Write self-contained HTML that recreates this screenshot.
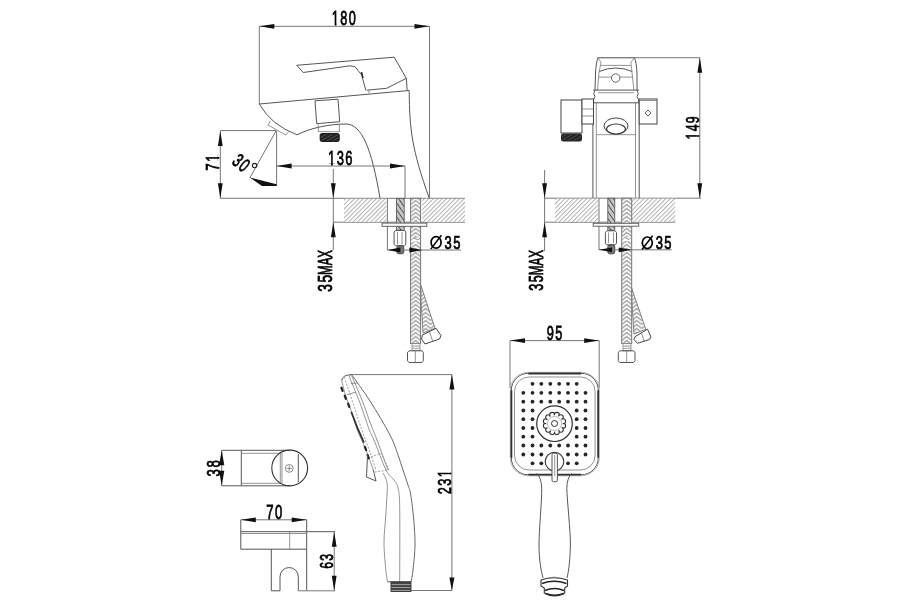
<!DOCTYPE html>
<html><head><meta charset="utf-8"><style>
html,body{margin:0;padding:0;background:#fff;width:900px;height:600px;overflow:hidden}
svg{display:block;will-change:transform}
text{font-family:"Liberation Sans",sans-serif;font-size:200px;fill:#000;stroke:#000;stroke-width:8px}
.ln{fill:none;stroke:#555;stroke-width:1}
.lt{fill:none;stroke:#777;stroke-width:0.8}
.th{fill:none;stroke:#222;stroke-width:1.4}
.dm{fill:none;stroke:#777;stroke-width:1}
.ln2{fill:none;stroke:#666;stroke-width:1}
.thick{fill:none;stroke:#333;stroke-width:1.8}
.ar{fill:#111;stroke:none}
.dash{fill:none;stroke:#222;stroke-width:2;stroke-dasharray:3 4}
.dash2{fill:none;stroke:#888;stroke-width:0.8;stroke-dasharray:2 1.5}
</style></head><body>
<svg width="900" height="600" viewBox="0 0 900 600">
<defs>
<clipPath id="c1" clipPathUnits="userSpaceOnUse"><path clip-rule="evenodd" d="M-2000,-2000 H4000 V2000 H-2000 Z M0.0,-23 H45.5 V12 H0.0 Z M71.5,-23 H115.0 V12 H71.5 Z"/></clipPath><clipPath id="c2" clipPathUnits="userSpaceOnUse"><path clip-rule="evenodd" d="M-2000,-2000 H4000 V2000 H-2000 Z M133.2,-23 H178.7 V12 H133.2 Z M204.7,-23 H248.2 V12 H204.7 Z"/></clipPath><clipPath id="c3" clipPathUnits="userSpaceOnUse"><path clip-rule="evenodd" d="M-2000,-2000 H4000 V2000 H-2000 Z M0.0,-23 H45.5 V12 H0.0 Z M71.5,-23 H115.0 V12 H71.5 Z"/></clipPath><clipPath id="c4" clipPathUnits="userSpaceOnUse"><path clip-rule="evenodd" d="M-2000,-2000 H4000 V2000 H-2000 Z M0.0,-23 H45.5 V12 H0.0 Z M71.5,-23 H115.0 V12 H71.5 Z"/></clipPath><clipPath id="c5" clipPathUnits="userSpaceOnUse"><path clip-rule="evenodd" d="M-2000,-2000 H4000 V2000 H-2000 Z M266.5,-23 H312.0 V12 H266.5 Z M338.0,-23 H381.5 V12 H338.0 Z"/></clipPath>
<pattern id="hatch" patternUnits="userSpaceOnUse" width="3.1" height="6" patternTransform="rotate(45)">
<rect width="3.1" height="6" fill="#fff"/><line x1="0.5" y1="0" x2="0.5" y2="6" stroke="#b0b0b0" stroke-width="1"/></pattern>
<pattern id="pipe" patternUnits="userSpaceOnUse" width="4" height="4" patternTransform="rotate(-35)">
<rect width="4" height="4" fill="#c8c8c8"/><line x1="0.5" y1="0" x2="0.5" y2="4" stroke="#555" stroke-width="1.1"/></pattern>
<pattern id="braid" patternUnits="userSpaceOnUse" width="10" height="4" x="410.6" y="0">
<rect width="10" height="4" fill="#f6f6f6"/><path d="M0,4.5 L5,0.5 L10,4.5 M0,0.5 L5,-3.5 L10,0.5 M0,8.5 L5,4.5 L10,8.5" fill="none" stroke="#999" stroke-width="1.1"/></pattern>
<pattern id="braid2" patternUnits="userSpaceOnUse" width="10" height="4" x="621.7" y="0">
<rect width="10" height="4" fill="#f6f6f6"/><path d="M0,4.5 L5,0.5 L10,4.5 M0,0.5 L5,-3.5 L10,0.5 M0,8.5 L5,4.5 L10,8.5" fill="none" stroke="#999" stroke-width="1.1"/></pattern>
<pattern id="thr" patternUnits="userSpaceOnUse" width="3" height="3" patternTransform="rotate(60)">
<rect width="3" height="3" fill="#222"/><line x1="0" y1="0" x2="0" y2="3" stroke="#888" stroke-width="0.8"/></pattern>
<pattern id="thr3" patternUnits="userSpaceOnUse" width="2.5" height="2.5">
<rect width="2.5" height="2.5" fill="#fff"/><line x1="0" y1="1" x2="2.5" y2="1" stroke="#888" stroke-width="0.9"/></pattern>
<pattern id="thr2" patternUnits="userSpaceOnUse" width="3" height="3">
<rect width="3" height="3" fill="#999"/><line x1="0" y1="1" x2="3" y2="1" stroke="#222" stroke-width="1.4"/></pattern>
</defs>
<line class="dm" x1="259.3" y1="26.3" x2="429.5" y2="26.3"/>
<polygon class="ar" points="259.30,26.30 274.30,23.90 274.30,28.70"/>
<polygon class="ar" points="429.50,26.30 414.50,28.70 414.50,23.90"/>
<line class="dm" x1="259.3" y1="26.3" x2="259.3" y2="104"/>
<line class="dm" x1="429.5" y1="26.3" x2="429.5" y2="198.3"/>
<text transform="translate(331.85 25.21) scale(0.0635 0.0980)" clip-path="url(#c1)" letter-spacing="22">180</text>
<path class="ln" d="M296.7,65.3 L394.2,57.2 L406.3,78.3 L407.2,90.6"/>
<path class="ln" d="M296.7,65.3 L303.3,72.5 L350,65.8 L355,66.7 L361.7,75 L365.8,90.3"/>
<path class="ln" d="M406.3,78.3 L386.7,88.3 L366.7,90.2"/>
<path class="th" d="M361.5,72 L363,78"/>
<path class="ln" d="M259.3,104 L409.2,90.5"/>
<path class="ln" d="M409.2,90.5 C409.5,130 412,150 429.3,198.3"/>
<line class="lt" x1="369" y1="90" x2="369" y2="93.5"/>
<path class="ln" d="M259.3,104 Q271,125 297,134.8"/>
<path class="ln" d="M297,134.8 C310,128 330,124 346,124 C362,124 372,150 380,198.3"/>
<path class="lt" d="M270.5,120.8 L268,125 L285.8,135.1 L288.6,131.6"/>
<path class="ln" d="M315,100.8 L338,99.2 L339.7,121.7 L316.7,123.7 Z"/>
<path class="lt" d="M318.3,124.6 L318.3,131.7 L339.4,131.7 L339.4,124"/>
<rect x="320.2" y="133.6" width="19" height="7.8" rx="1.5" fill="url(#thr)" stroke="#111" stroke-width="1"/>
<line class="dm" x1="220.3" y1="131" x2="220.3" y2="198.3"/>
<polygon class="ar" points="220.30,131.00 222.70,146.00 217.90,146.00"/>
<polygon class="ar" points="220.30,198.30 217.90,183.30 222.70,183.30"/>
<line class="dm" x1="220.3" y1="130.6" x2="276" y2="130.6"/>
<text transform="translate(219.33 170.70) rotate(-90) scale(0.0665 0.0918)" clip-path="url(#c2)" letter-spacing="22">71</text>
<line class="dm" x1="276.6" y1="130.6" x2="276.6" y2="185.8"/>
<line class="dm" x1="276" y1="131" x2="249.8" y2="178"/>
<polygon class="ar" points="249.8,177.6 276.6,184.2 276.6,185.9 262,185.9"/>
<text transform="translate(241.30 162.80) rotate(40) scale(0.0633 0.0967) translate(-122.50 69.00)" letter-spacing="22">30</text>
<circle cx="254.6" cy="165.6" r="2.2" fill="none" stroke="#222" stroke-width="1.1"/>
<line class="dm" x1="276.6" y1="166" x2="405" y2="166"/>
<polygon class="ar" points="276.60,166.00 291.60,163.60 291.60,168.40"/>
<polygon class="ar" points="405.00,166.00 390.00,168.40 390.00,163.60"/>
<line class="dm" x1="405" y1="166" x2="405" y2="198.3"/>
<text transform="translate(328.03 165.41) scale(0.0648 0.0980)" clip-path="url(#c3)" letter-spacing="22">136</text>
<line class="dm" x1="333.3" y1="169" x2="333.3" y2="250"/>
<polygon class="ar" points="333.30,198.30 330.90,183.30 335.70,183.30"/>
<polygon class="ar" points="333.30,222.20 335.70,237.20 330.90,237.20"/>
<text transform="translate(332.40 274.89) rotate(-90) scale(0.0575 0.0993)" letter-spacing="0">MAX</text>
<text transform="translate(332.22 291.78) rotate(-90) scale(0.0691 0.0967)" letter-spacing="22">35</text>
<line class="dm" x1="220.3" y1="198.3" x2="465" y2="198.3"/>
<line class="dm" x1="333.3" y1="222.2" x2="465" y2="222.2"/>
<rect x="344" y="198.8" width="42.5" height="23" fill="url(#hatch)"/>
<rect x="422.4" y="198.8" width="42.6" height="23" fill="url(#hatch)"/>
<line class="dm" x1="387.4" y1="198.3" x2="387.4" y2="250"/>
<rect x="396.4" y="198.3" width="7.8" height="32" fill="url(#pipe)" stroke="#555" stroke-width="0.8"/>
<rect x="410.6" y="198.3" width="10" height="145.2" fill="url(#braid)" stroke="#777" stroke-width="1"/>
<rect x="411.3" y="237.8" width="8.6" height="3.8" fill="#fff"/>
<path class="lt" d="M411.3,240 Q414,236.5 416,239 Q418,241.5 420,238"/>
<rect x="382.1" y="223.1" width="44.7" height="3.2" fill="#fff" stroke="#555" stroke-width="0.9"/>
<path class="ln" d="M395.5,230.4 L404.5,230.4 L405.8,232 L405.8,244.2 L404.5,245.8 L395.5,245.8 L394.1,244.2 L394.1,232 Z"/>
<line class="lt" x1="397.5" y1="232" x2="397.5" y2="244.5"/>
<line class="lt" x1="402" y1="232" x2="402" y2="244.5"/>
<rect x="396.8" y="245.8" width="7" height="8" rx="2" fill="#777" stroke="#333" stroke-width="0.8"/>
<line class="dm" x1="387.4" y1="250" x2="461" y2="250"/>
<polygon class="ar" points="387.40,250.00 400.40,247.60 400.40,252.40"/>
<polygon class="ar" points="422.40,250.00 409.40,252.40 409.40,247.60"/>
<ellipse cx="436.10" cy="242.40" rx="5.0" ry="5.8" fill="none" stroke="#000" stroke-width="1.7"/>
<line x1="430.80" y1="249.10" x2="441.40" y2="235.30" stroke="#000" stroke-width="1.5"/>
<text transform="translate(444.54 249.04) scale(0.0648 0.0933)" letter-spacing="22">35</text>
<path d="M420.8,285 L435,328.3 L423,333 L421,300 Z" fill="url(#braid)" stroke="#777" stroke-width="0.9"/>
<polygon points="421.5,339 422.5,335 436,328.3 441,335.5 439.5,339 425,344" fill="#fff" stroke="#444" stroke-width="1"/>
<line class="lt" x1="429.5" y1="332" x2="433" y2="342"/>
<rect x="412" y="343.5" width="8" height="7" fill="url(#thr3)" stroke="#888" stroke-width="0.8"/>
<path class="ln" d="M409,350.8 L422,350.8 L423.3,352.5 L423.3,360.8 L422,362.5 L409,362.5 L407.5,360.8 L407.5,352.5 Z"/>
<line class="lt" x1="415.3" y1="351" x2="415.3" y2="362.3"/>
<line class="dm" x1="597.5" y1="57.7" x2="700" y2="57.7"/>
<line class="dm" x1="699.8" y1="57.7" x2="699.8" y2="198.2"/>
<polygon class="ar" points="699.80,57.70 702.20,72.70 697.40,72.70"/>
<polygon class="ar" points="699.80,198.20 697.40,183.20 702.20,183.20"/>
<text transform="translate(698.64 139.52) rotate(-90) scale(0.0613 0.0933)" clip-path="url(#c4)" letter-spacing="22">149</text>
<path class="ln" d="M598,57.8 Q596,62 595.5,74 L595,90.2"/>
<path class="ln" d="M634.4,57.8 Q636.5,62 637,74 L637,90.2"/>
<path class="lt" d="M598,57.8 L601,62.4 Q600,68 598.8,74 L597.5,90"/>
<path class="lt" d="M634.4,57.8 L630.9,62.4 Q631.5,68 632.2,74 L633.9,90"/>
<line class="lt" x1="598" y1="57.8" x2="634.4" y2="57.8"/>
<line class="lt" x1="601" y1="65.4" x2="630.9" y2="65.4"/>
<path class="ln" d="M599.3,71.5 Q615.7,64.5 632.2,71.5"/>
<line class="lt" x1="599" y1="77.1" x2="633" y2="77.1"/>
<circle cx="615.7" cy="78" r="4.2" fill="#fff" stroke="#555" stroke-width="0.9"/>
<line class="ln" x1="593.2" y1="90.1" x2="639.1" y2="90.1"/>
<line class="lt" x1="598" y1="92.7" x2="634" y2="92.7"/>
<path class="ln" d="M595,90.2 Q592.5,94 595,96.5 Q593,99 593.5,102.8"/>
<path class="ln" d="M637,90.2 Q639.5,94 637,96.5 Q639,99 639,102.8"/>
<line class="ln" x1="592.9" y1="99" x2="592.9" y2="198.2"/>
<line class="ln" x1="639.2" y1="99" x2="639.2" y2="198.2"/>
<line class="lt" x1="596.3" y1="102.8" x2="596.3" y2="198.2"/>
<line class="lt" x1="635.5" y1="102.8" x2="635.5" y2="198.2"/>
<line class="ln" x1="592.9" y1="102.8" x2="639.2" y2="102.8"/>
<line class="lt" x1="596.3" y1="134.7" x2="635.5" y2="134.7"/>
<rect x="561" y="100" width="21" height="33" fill="#fff" stroke="#444" stroke-width="1"/>
<rect x="582" y="99" width="11.5" height="25" fill="#fff" stroke="#444" stroke-width="1"/>
<line class="lt" x1="582" y1="109" x2="593.5" y2="109"/>
<line class="lt" x1="582" y1="116" x2="593.5" y2="116"/>
<rect x="561.5" y="134" width="20" height="7" rx="1.5" fill="url(#thr)" stroke="#222" stroke-width="1"/>
<rect x="639.2" y="99" width="17.8" height="25" fill="#fff" stroke="#444" stroke-width="1"/>
<line class="lt" x1="639.2" y1="100.5" x2="657" y2="100.5"/>
<polygon points="648,110 651,113 648,116 645,113" fill="none" stroke="#444" stroke-width="0.8"/>
<ellipse cx="616" cy="126" rx="12" ry="8" fill="#fff" stroke="#444" stroke-width="1"/>
<ellipse cx="616" cy="129" rx="9.5" ry="5" fill="#fff" stroke="#333" stroke-width="1.2"/>
<line class="dm" x1="544.5" y1="198.2" x2="700.9" y2="198.2"/>
<line class="dm" x1="544.5" y1="222.2" x2="675.2" y2="222.2"/>
<rect x="555" y="198.7" width="43" height="23" fill="url(#hatch)"/>
<rect x="631.7" y="198.7" width="43.5" height="23" fill="url(#hatch)"/>
<line class="dm" x1="599" y1="198.2" x2="599" y2="250"/>
<rect x="607.8" y="198.2" width="7" height="32" fill="url(#pipe)" stroke="#555" stroke-width="0.8"/>
<rect x="621.7" y="198.2" width="10" height="145.3" fill="url(#braid2)" stroke="#777" stroke-width="1"/>
<rect x="622.4" y="237.3" width="8.6" height="3.8" fill="#fff"/>
<path class="lt" d="M622.4,239.5 Q625,236 627,238.5 Q629,241 631,237.5"/>
<rect x="593.2" y="223.3" width="45.5" height="2.9" fill="#fff" stroke="#555" stroke-width="0.9"/>
<path class="ln" d="M606.8,230.8 L615.1,230.8 L616.5,232.4 L616.5,243.2 L615.1,244.8 L606.8,244.8 L605.4,243.2 L605.4,232.4 Z"/>
<line class="lt" x1="608.5" y1="232.5" x2="608.5" y2="243"/>
<line class="lt" x1="613.5" y1="232.5" x2="613.5" y2="243"/>
<rect x="607.8" y="244.8" width="7" height="9" rx="2" fill="#777" stroke="#333" stroke-width="0.8"/>
<line class="dm" x1="599" y1="249.8" x2="671.7" y2="249.8"/>
<polygon class="ar" points="599.00,249.80 612.00,247.40 612.00,252.20"/>
<polygon class="ar" points="631.70,249.80 618.70,252.20 618.70,247.40"/>
<ellipse cx="647.30" cy="242.80" rx="5.0" ry="5.8" fill="none" stroke="#000" stroke-width="1.7"/>
<line x1="642.00" y1="249.50" x2="652.60" y2="235.70" stroke="#000" stroke-width="1.5"/>
<text transform="translate(655.74 249.44) scale(0.0648 0.0933)" letter-spacing="22">35</text>
<line class="dm" x1="544.6" y1="170" x2="544.6" y2="251"/>
<polygon class="ar" points="544.60,198.20 542.20,183.20 547.00,183.20"/>
<polygon class="ar" points="544.60,222.20 547.00,237.20 542.20,237.20"/>
<text transform="translate(543.40 275.30) rotate(-90) scale(0.0584 0.1000)" letter-spacing="0">MAX</text>
<text transform="translate(543.22 290.65) rotate(-90) scale(0.0627 0.0973)" letter-spacing="22">35</text>
<path d="M631.7,288.3 L645.8,329.2 L634,334 L632,303 Z" fill="url(#braid2)" stroke="#777" stroke-width="0.9"/>
<polygon points="634,339.5 635,336.7 647.5,329.2 651,337 649.5,339.5 637.5,343.3" fill="#fff" stroke="#444" stroke-width="1"/>
<line class="lt" x1="641.5" y1="333" x2="644.5" y2="342"/>
<rect x="623" y="343.5" width="8" height="7.3" fill="url(#thr3)" stroke="#888" stroke-width="0.8"/>
<path class="ln" d="M619.8,350.8 L633.5,350.8 L635,352.5 L635,360.8 L633.5,362.5 L619.8,362.5 L618.3,360.8 L618.3,352.5 Z"/>
<line class="lt" x1="626.7" y1="351" x2="626.7" y2="362.3"/>
<line class="ln" x1="221.7" y1="450.3" x2="289.7" y2="450.3"/>
<line class="ln" x1="221.7" y1="485.8" x2="289.7" y2="485.8"/>
<line class="ln" x1="241.3" y1="450.3" x2="241.3" y2="485.8"/>
<line class="lt" x1="241.3" y1="453.3" x2="281" y2="453.3"/>
<line class="lt" x1="241.3" y1="483.3" x2="281" y2="483.3"/>
<circle cx="289.7" cy="468" r="17.9" fill="none" stroke="#333" stroke-width="1.1"/>
<path class="lt" d="M280.3,453.5 L280.3,482.5 M282,453 L282,483"/>
<path class="ln" d="M298.3,454 L298.3,482"/>
<circle cx="289.2" cy="468.4" r="3.9" fill="none" stroke="#888" stroke-width="1"/>
<path class="lt" d="M286.5,468.4 L291.9,468.4 M289.2,465.7 L289.2,471.1"/>
<line class="dm" x1="221.7" y1="450.3" x2="221.7" y2="485.8"/>
<polygon class="ar" points="221.70,450.30 224.30,465.30 219.10,465.30"/>
<polygon class="ar" points="221.70,485.80 219.10,470.80 224.30,470.80"/>
<text transform="translate(219.67 476.47) rotate(-90) scale(0.0665 0.0887)" letter-spacing="22">38</text>
<line class="dm" x1="240.8" y1="519.8" x2="306.7" y2="519.8"/>
<polygon class="ar" points="240.80,519.80 255.80,517.40 255.80,522.20"/>
<polygon class="ar" points="306.70,519.80 291.70,522.20 291.70,517.40"/>
<text transform="translate(266.31 519.02) scale(0.0655 0.0973)" letter-spacing="22">70</text>
<line class="ln" x1="240.8" y1="519.8" x2="240.8" y2="549.2"/>
<line class="ln" x1="306.7" y1="519.8" x2="306.7" y2="590.8"/>
<line class="ln" x1="240.8" y1="531.7" x2="335" y2="531.7"/>
<line class="lt" x1="240.8" y1="533.5" x2="306.7" y2="533.5"/>
<line class="ln" x1="240.8" y1="549.2" x2="306.7" y2="549.2"/>
<line class="lt" x1="289.7" y1="531.7" x2="289.7" y2="549.2"/>
<line class="ln" x1="271.3" y1="549.2" x2="271.3" y2="590.8"/>
<path class="ln" d="M280,590.8 V576.7 A9.15,9.15 0 0 1 298.3,576.7 V590.8"/>
<line class="ln" x1="271.3" y1="590.8" x2="280" y2="590.8"/>
<line class="dm" x1="298.3" y1="590.8" x2="335" y2="590.8"/>
<line class="dm" x1="334.2" y1="531.7" x2="334.2" y2="590.8"/>
<polygon class="ar" points="334.20,531.70 336.60,546.70 331.80,546.70"/>
<polygon class="ar" points="334.20,590.80 331.80,575.80 336.60,575.80"/>
<text transform="translate(333.05 568.87) rotate(-90) scale(0.0611 0.0920)" letter-spacing="22">63</text>
<line class="dm" x1="350" y1="374.6" x2="452" y2="374.6"/>
<line class="dm" x1="451.9" y1="374.6" x2="451.9" y2="590.5"/>
<polygon class="ar" points="451.90,374.60 454.40,389.60 449.40,389.60"/>
<polygon class="ar" points="451.90,590.50 449.40,577.50 454.40,577.50"/>
<line class="dm" x1="408" y1="590.5" x2="452" y2="590.5"/>
<text transform="translate(450.63 494.28) rotate(-90) scale(0.0640 0.0953)" clip-path="url(#c5)" letter-spacing="22">231</text>
<path class="ln" d="M341.7,380.5 Q342.5,374.8 351.7,374.8"/>
<path class="ln2" d="M351.70,374.80 C354.75,379.17 363.62,390.97 370.00,401.00 C376.38,411.03 385.33,426.00 390.00,435.00 C394.67,444.00 395.83,449.17 398.00,455.00 C400.17,460.83 401.33,465.00 403.00,470.00 C404.67,475.00 406.70,480.83 408.00,485.00 C409.30,489.17 409.84,489.17 410.80,495.00 C411.76,500.83 413.05,511.67 413.75,520.00 C414.45,528.33 415.12,536.67 415.00,545.00 C414.88,553.33 413.65,563.87 413.00,570.00 C412.35,576.13 411.42,579.83 411.10,581.80"/>
<path class="lt" d="M341.70,380.50 C342.42,383.25 344.28,391.58 346.00,397.00 C347.72,402.42 350.17,407.67 352.00,413.00 C353.83,418.33 354.90,423.38 357.00,429.00 C359.10,434.62 362.60,441.87 364.60,446.70 C366.60,451.53 367.55,454.12 369.00,458.00 C370.45,461.88 372.58,468.00 373.30,470.00"/>
<line x1="341.40" y1="387.70" x2="342.60" y2="390.90" stroke="#222" stroke-width="2.2" stroke-linecap="round"/>
<line x1="344.70" y1="395.70" x2="345.90" y2="398.90" stroke="#222" stroke-width="2.2" stroke-linecap="round"/>
<line x1="348.10" y1="403.70" x2="349.30" y2="406.90" stroke="#222" stroke-width="2.2" stroke-linecap="round"/>
<line x1="364.90" y1="446.90" x2="366.10" y2="450.10" stroke="#222" stroke-width="2.2" stroke-linecap="round"/>
<line x1="367.60" y1="455.10" x2="368.80" y2="458.30" stroke="#222" stroke-width="2.2" stroke-linecap="round"/>
<path class="thick" d="M351.3,412 Q357,428 364,442.7"/>
<path class="dash2" d="M344.20,377.20 C345.50,381.00 349.12,391.37 352.00,400.00 C354.88,408.63 358.63,420.67 361.50,429.00 C364.37,437.33 366.78,443.17 369.20,450.00 C371.62,456.83 374.87,466.67 376.00,470.00"/>
<path class="lt" d="M348.75,375.50 C350.62,380.08 356.62,394.08 360.00,403.00 C363.38,411.92 366.67,422.83 369.00,429.00 C371.33,435.17 371.17,433.17 374.00,440.00 C376.83,446.83 382.67,463.33 386.00,470.00 C389.33,476.67 392.00,477.00 394.00,480.00 C396.00,483.00 397.05,483.42 398.00,488.00 C398.95,492.58 399.42,491.87 399.70,507.50 C399.98,523.13 399.70,569.42 399.70,581.80"/>
<path class="lt" d="M351.70,376.00 C353.42,380.00 358.78,391.83 362.00,400.00 C365.22,408.17 368.50,418.33 371.00,425.00 C373.50,431.67 374.17,432.50 377.00,440.00 C379.83,447.50 386.17,465.00 388.00,470.00"/>
<path class="lt" d="M383.00,473.00 C383.67,474.50 386.33,478.33 387.00,482.00 C387.67,485.67 387.22,489.33 387.00,495.00 C386.78,500.67 386.20,508.08 385.70,516.00 C385.20,523.92 384.00,533.72 384.00,542.50 C384.00,551.28 385.12,562.15 385.70,568.70 C386.28,575.25 387.20,579.62 387.50,581.80"/>
<path class="lt" d="M350.8,383.4 L357.5,383 M346.7,394.7 L355.8,392.2"/>
<path class="dash2" d="M371,457 L381,453 L389,470 L375,472"/>
<path class="ln" d="M367.5,455 L366.5,477 L376,481 L373.3,470"/>
<line class="ln" x1="387.5" y1="581.8" x2="411.1" y2="581.8"/>
<rect x="391" y="582" width="20" height="9.5" fill="url(#thr2)" stroke="#333" stroke-width="0.9"/>
<line class="dm" x1="510" y1="340.6" x2="599.2" y2="340.6"/>
<polygon class="ar" points="510.00,340.60 525.00,338.20 525.00,343.00"/>
<polygon class="ar" points="599.20,340.60 584.20,343.00 584.20,338.20"/>
<line class="dm" x1="510" y1="340.6" x2="510" y2="388"/>
<line class="dm" x1="599.2" y1="340.6" x2="599.2" y2="388"/>
<text transform="translate(546.78 340.22) scale(0.0638 0.0967)" letter-spacing="22">95</text>
<rect x="511.3" y="373.3" width="87" height="101.5" rx="17" fill="none" stroke="#555" stroke-width="1"/>
<rect x="510.3" y="372.3" width="89" height="103.5" rx="18" fill="none" stroke="#aaa" stroke-width="0.8"/>
<path class="thick" d="M528.3,373.5 H581.3 M511.4,390.3 V457.8 M598.2,390.3 V457.8 M528.3,474.7 H581.3"/>
<rect x="514.5" y="377" width="80.6" height="93" rx="14.5" fill="none" stroke="#777" stroke-width="0.8"/>
<g fill="#262626"><circle cx="532.5" cy="383.8" r="1.9"/><circle cx="541.3" cy="383.8" r="1.9"/><circle cx="550.3" cy="383.8" r="1.9"/><circle cx="559.2" cy="383.8" r="1.9"/><circle cx="568" cy="383.8" r="1.9"/><circle cx="576.7" cy="383.8" r="1.9"/><circle cx="523.3" cy="392.8" r="1.9"/><circle cx="532.5" cy="392.8" r="1.9"/><circle cx="541.3" cy="392.8" r="1.9"/><circle cx="550.3" cy="392.8" r="1.9"/><circle cx="559.2" cy="392.8" r="1.9"/><circle cx="568" cy="392.8" r="1.9"/><circle cx="576.7" cy="392.8" r="1.9"/><circle cx="585.5" cy="392.8" r="1.9"/><circle cx="523.3" cy="401.7" r="1.9"/><circle cx="532.5" cy="401.7" r="1.9"/><circle cx="541.3" cy="401.7" r="1.9"/><circle cx="550.3" cy="401.7" r="1.9"/><circle cx="559.2" cy="401.7" r="1.9"/><circle cx="568" cy="401.7" r="1.9"/><circle cx="576.7" cy="401.7" r="1.9"/><circle cx="585.5" cy="401.7" r="1.9"/><circle cx="523.3" cy="410.5" r="1.9"/><circle cx="532.5" cy="410.5" r="1.9"/><circle cx="576.7" cy="410.5" r="1.9"/><circle cx="585.5" cy="410.5" r="1.9"/><circle cx="523.3" cy="419.2" r="1.9"/><circle cx="532.5" cy="419.2" r="1.9"/><circle cx="576.7" cy="419.2" r="1.9"/><circle cx="585.5" cy="419.2" r="1.9"/><circle cx="523.3" cy="428" r="1.9"/><circle cx="532.5" cy="428" r="1.9"/><circle cx="576.7" cy="428" r="1.9"/><circle cx="585.5" cy="428" r="1.9"/><circle cx="523.3" cy="436.7" r="1.9"/><circle cx="532.5" cy="436.7" r="1.9"/><circle cx="576.7" cy="436.7" r="1.9"/><circle cx="585.5" cy="436.7" r="1.9"/><circle cx="523.3" cy="445.5" r="1.9"/><circle cx="532.5" cy="445.5" r="1.9"/><circle cx="541.3" cy="445.5" r="1.9"/><circle cx="550.3" cy="445.5" r="1.9"/><circle cx="559.2" cy="445.5" r="1.9"/><circle cx="568" cy="445.5" r="1.9"/><circle cx="576.7" cy="445.5" r="1.9"/><circle cx="585.5" cy="445.5" r="1.9"/><circle cx="523.3" cy="454.5" r="1.9"/><circle cx="532.5" cy="454.5" r="1.9"/><circle cx="541.3" cy="454.5" r="1.9"/><circle cx="568" cy="454.5" r="1.9"/><circle cx="576.7" cy="454.5" r="1.9"/><circle cx="585.5" cy="454.5" r="1.9"/><circle cx="532.5" cy="463.3" r="1.9"/><circle cx="541.3" cy="463.3" r="1.9"/><circle cx="568" cy="463.3" r="1.9"/><circle cx="576.7" cy="463.3" r="1.9"/></g>
<circle cx="554.5" cy="423.7" r="17.8" fill="none" stroke="#333" stroke-width="1.2"/>
<g fill="#fff" stroke="#333" stroke-width="1.1"><circle cx="563.10" cy="425.80" r="2.5"/><circle cx="560.79" cy="429.79" r="2.5"/><circle cx="556.80" cy="432.10" r="2.5"/><circle cx="552.20" cy="432.10" r="2.5"/><circle cx="548.21" cy="429.79" r="2.5"/><circle cx="545.90" cy="425.80" r="2.5"/><circle cx="545.90" cy="421.20" r="2.5"/><circle cx="548.21" cy="417.21" r="2.5"/><circle cx="552.20" cy="414.90" r="2.5"/><circle cx="556.80" cy="414.90" r="2.5"/><circle cx="560.79" cy="417.21" r="2.5"/><circle cx="563.10" cy="421.20" r="2.5"/></g>
<circle cx="554.5" cy="423.5" r="8.2" fill="#fff" stroke="none"/>
<circle cx="554.5" cy="423.5" r="7" fill="none" stroke="#999" stroke-width="0.7"/>
<circle cx="554.5" cy="423.5" r="3" fill="#fff" stroke="#333" stroke-width="1"/>
<circle cx="554.5" cy="461.6" r="9.3" fill="#fff" stroke="#333" stroke-width="1.1"/>
<rect x="552" y="453.3" width="5.4" height="28.4" rx="1.5" fill="#fff" stroke="#444" stroke-width="0.9"/>
<line class="lt" x1="554.7" y1="455" x2="554.7" y2="476"/>
<path class="ln" d="M536.7,473.3 Q541.5,478 541.7,488.3 C542,500 539,530 539,545 C539,560 541,570 543,578"/>
<path class="ln" d="M571.7,473.3 Q567,478 566.8,488.3 C567,500 570.5,530 570.4,545 C570,560 569,570 567,578"/>
<path d="M541,580 Q554,575.5 567.5,580 L567.5,586 L564.7,588 L564.7,593 Q554.5,599 544.3,593 L544.3,588 L541,586 Z" fill="#fff" stroke="#333" stroke-width="1.1"/>
<path class="th" d="M542,583.5 Q554,579 566.5,583.5 M545,590.5 Q554.5,586.5 564,590.5 M545.5,593.5 Q554.5,597 564,593.5"/>
<path class="lt" d="M549,577.8 Q554,576.5 559,577.8"/>
</svg>
</body></html>
